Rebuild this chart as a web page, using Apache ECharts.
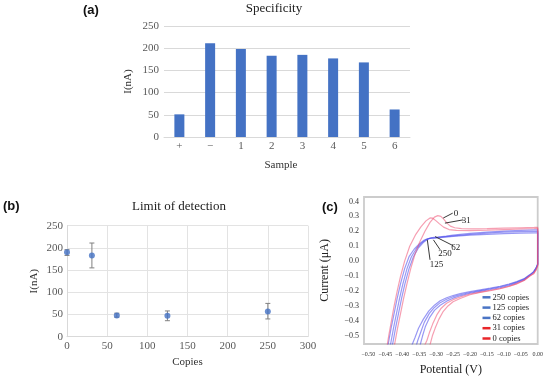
<!DOCTYPE html>
<html>
<head>
<meta charset="utf-8">
<script src="https://cdn.jsdelivr.net/npm/echarts@6/dist/echarts.min.js"></script>
<style>html,body{margin:0;padding:0;background:#fff}#c{width:550px;height:380px}</style>
</head>
<body>
<div id="c"></div>
<script>
// ---------- Panel (a) Specificity ----------
const sampleCats = ['+', '\u2212', '1', '2', '3', '4', '5', '6'];
const specValues = [51, 211, 198, 183, 185, 177, 168, 62];
const specTicks = [0, 50, 100, 150, 200, 250];

// ---------- Panel (b) Limit of detection ----------
const lodCopies = [0, 31, 62, 125, 250];
const lodMean = [190, 183, 48, 47, 57];
const lodLow = [183, 155, 44, 36, 40];
const lodHigh = [196, 211, 53, 58, 75];
const lodXTicks = [0, 50, 100, 150, 200, 250, 300];

// ---------- Panel (c) Cyclic voltammograms [V, uA] ----------
const cvNames = ['250 copies', '125 copies', '62 copies', '31 copies', '0 copies'];
const cv250 = [[-0.440,-0.60],[-0.434,-0.55],[-0.426,-0.45],[-0.417,-0.35],[-0.408,-0.25],[-0.398,-0.15],[-0.386,-0.05],[-0.373,0.03],[-0.358,0.085],[-0.344,0.12],[-0.331,0.143],[-0.320,0.153],[-0.312,0.156],[-0.300,0.158],[-0.28,0.163],[-0.25,0.17],[-0.2,0.18],[-0.15,0.188],[-0.1,0.194],[-0.05,0.198],[-0.01,0.2],[0,0.2],
  [0.000,-0.02],[-0.005,-0.048],[-0.012,-0.072],[-0.023,-0.092],[-0.040,-0.12],[-0.062,-0.14],[-0.085,-0.157],[-0.111,-0.172],[-0.140,-0.185],[-0.170,-0.197],[-0.200,-0.21],[-0.229,-0.225],[-0.250,-0.238],[-0.269,-0.255],[-0.288,-0.278],[-0.305,-0.31],[-0.320,-0.35],[-0.335,-0.41],[-0.346,-0.48],[-0.354,-0.53],[-0.358,-0.56],[-0.360,-0.60]];
const cv125 = [[-0.447,-0.60],[-0.441,-0.55],[-0.433,-0.45],[-0.424,-0.35],[-0.415,-0.25],[-0.405,-0.15],[-0.393,-0.05],[-0.380,0.03],[-0.365,0.08],[-0.350,0.115],[-0.336,0.14],[-0.326,0.150],[-0.318,0.153],[-0.305,0.155],[-0.28,0.16],[-0.25,0.166],[-0.2,0.174],[-0.15,0.180],[-0.1,0.185],[-0.05,0.188],[-0.01,0.19],[0,0.19],
  [0.000,-0.02],[-0.005,-0.045],[-0.012,-0.07],[-0.023,-0.09],[-0.040,-0.117],[-0.062,-0.137],[-0.085,-0.153],[-0.111,-0.168],[-0.140,-0.18],[-0.170,-0.192],[-0.200,-0.204],[-0.229,-0.218],[-0.250,-0.23],[-0.269,-0.245],[-0.288,-0.265],[-0.305,-0.295],[-0.322,-0.335],[-0.338,-0.39],[-0.352,-0.45],[-0.362,-0.51],[-0.371,-0.56],[-0.374,-0.60]];
const cv62 = [[-0.434,-0.60],[-0.428,-0.55],[-0.420,-0.45],[-0.411,-0.35],[-0.402,-0.25],[-0.392,-0.15],[-0.380,-0.05],[-0.367,0.03],[-0.352,0.09],[-0.338,0.125],[-0.325,0.147],[-0.314,0.157],[-0.306,0.16],[-0.295,0.162],[-0.27,0.168],[-0.25,0.175],[-0.2,0.186],[-0.15,0.195],[-0.1,0.202],[-0.05,0.207],[-0.01,0.21],[0,0.21],
  [0.000,-0.02],[-0.005,-0.05],[-0.012,-0.075],[-0.023,-0.095],[-0.040,-0.125],[-0.062,-0.145],[-0.085,-0.163],[-0.111,-0.178],[-0.140,-0.19],[-0.170,-0.202],[-0.200,-0.215],[-0.229,-0.232],[-0.250,-0.248],[-0.269,-0.268],[-0.288,-0.295],[-0.305,-0.33],[-0.320,-0.38],[-0.332,-0.44],[-0.340,-0.50],[-0.347,-0.56],[-0.350,-0.60]];
const cv31 = [[-0.447,-0.60],[-0.440,-0.50],[-0.432,-0.40],[-0.424,-0.30],[-0.415,-0.20],[-0.405,-0.10],[-0.393,0.00],[-0.378,0.10],[-0.360,0.18],[-0.345,0.23],[-0.330,0.27],[-0.318,0.29],[-0.310,0.288],[-0.300,0.27],[-0.290,0.25],[-0.278,0.228],[-0.262,0.212],[-0.240,0.206],[-0.200,0.205],[-0.150,0.208],[-0.100,0.212],[-0.050,0.216],[-0.010,0.219],[0.000,0.220],
  [0.000,-0.03],[-0.005,-0.058],[-0.012,-0.082],[-0.023,-0.098],[-0.040,-0.128],[-0.062,-0.15],[-0.085,-0.168],[-0.111,-0.183],[-0.140,-0.195],[-0.170,-0.207],[-0.200,-0.22],[-0.229,-0.24],[-0.250,-0.258],[-0.269,-0.282],[-0.285,-0.315],[-0.298,-0.36],[-0.310,-0.42],[-0.320,-0.48],[-0.327,-0.53],[-0.333,-0.56],[-0.336,-0.60]];
const cv0 = [[-0.428,-0.60],[-0.422,-0.55],[-0.414,-0.45],[-0.405,-0.35],[-0.396,-0.25],[-0.386,-0.15],[-0.375,-0.05],[-0.362,0.05],[-0.348,0.13],[-0.333,0.2],[-0.318,0.26],[-0.305,0.295],[-0.295,0.305],[-0.286,0.300],[-0.277,0.28],[-0.268,0.255],[-0.258,0.235],[-0.245,0.224],[-0.225,0.218],[-0.2,0.216],[-0.15,0.218],[-0.1,0.221],[-0.05,0.224],[-0.01,0.226],[0,0.227],
  [0.000,-0.03],[-0.005,-0.06],[-0.012,-0.085],[-0.023,-0.10],[-0.040,-0.13],[-0.062,-0.152],[-0.085,-0.17],[-0.111,-0.185],[-0.140,-0.198],[-0.170,-0.21],[-0.200,-0.225],[-0.229,-0.25],[-0.250,-0.272],[-0.265,-0.30],[-0.280,-0.34],[-0.292,-0.39],[-0.303,-0.45],[-0.311,-0.50],[-0.318,-0.56],[-0.321,-0.60]];
const cvYTicks = [-0.5, -0.4, -0.3, -0.2, -0.1, 0.0, 0.1, 0.2, 0.3, 0.4];
const cvXTicks = [-0.50, -0.45, -0.40, -0.35, -0.30, -0.25, -0.20, -0.15, -0.10, -0.05, 0.00];
// annotation: [anchorV, anchorI, endV, endI, textV, textI]
const cvNoteText = ['0', '31', '62', '250', '125'];
const cvNotes = [
  [-0.279, 0.289, -0.251, 0.322, -0.241, 0.318],
  [-0.274, 0.255, -0.220, 0.277, -0.211, 0.270],
  [-0.303, 0.165, -0.249, 0.103, -0.242, 0.090],
  [-0.308, 0.143, -0.288, 0.076, -0.274, 0.049],
  [-0.326, 0.143, -0.318, 0.009, -0.299, -0.025]
];

const SERIF = '"Liberation Serif", "Times New Roman", serif';
const SANS = '"Liberation Sans", Arial, sans-serif';
const blueLine = 'rgba(70,70,235,0.55)';
const pinkLine = 'rgba(238,80,115,0.55)';
const blueLegend = '#4a74c4';
const redLegend = '#e8262a';

const minus = s => s.replace('-', '\u2212');

const chart = echarts.init(document.getElementById('c'), null, {renderer: 'canvas'});

const cvData = [cv250, cv125, cv62, cv31, cv0];
const cvSeries = cvData.map((d, i) => ({
  name: cvNames[i], type: 'line', xAxisIndex: 2, yAxisIndex: 2,
  data: d, symbol: 'none', showSymbol: false, clip: true, smooth: false,
  lineStyle: {color: i < 3 ? blueLine : pinkLine, width: 1.2},
  itemStyle: {color: i < 3 ? blueLegend : redLegend},
  z: 3
}));

const option = {
  animation: false,
  backgroundColor: '#fff',
  title: [
    {text: 'Specificity', left: 274, top: 2, padding: 0, textAlign: 'center', textStyle: {fontFamily: SERIF, fontSize: 13, fontWeight: 'normal', color: '#222'}},
    {text: 'Limit of detection', left: 179, top: 200.5, padding: 0, textAlign: 'center', textStyle: {fontFamily: SERIF, fontSize: 13, fontWeight: 'normal', color: '#222'}}
  ],
  graphic: [
    {type: 'text', left: 83, top: 4, style: {text: '(a)', font: 'bold 13px ' + SANS, fill: '#111'}},
    {type: 'text', left: 3, top: 200, style: {text: '(b)', font: 'bold 13px ' + SANS, fill: '#111'}},
    {type: 'text', left: 322, top: 200.5, style: {text: '(c)', font: 'bold 13px ' + SANS, fill: '#111'}}
  ],
  legend: {
    data: cvNames.map((n, i) => ({name: n, itemStyle: {color: i < 3 ? blueLegend : redLegend}, lineStyle: {color: i < 3 ? blueLegend : redLegend}})),
    orient: 'vertical', left: 482.5, top: 292.3, icon: 'rect', itemWidth: 8, itemHeight: 2.5, itemGap: 0.3,
    padding: 0, selectedMode: false,
    textStyle: {fontFamily: SERIF, fontSize: 8.5, color: '#222', lineHeight: 10, padding: [0, 0, 0, -3]}
  },
  grid: [
    {left: 164, top: 26, width: 246, height: 111},
    {left: 67, top: 225.7, width: 241, height: 111},
    {left: 364, top: 197, width: 173.7, height: 147, show: true, borderColor: '#cccccc', borderWidth: 1.8, backgroundColor: 'transparent'}
  ],
  xAxis: [
    {gridIndex: 0, type: 'category', data: sampleCats,
     axisLine: {lineStyle: {color: '#d9d9d9'}}, axisTick: {show: false},
     axisLabel: {fontFamily: SERIF, fontSize: 11, color: '#595959', margin: 4},
     name: 'Sample', nameLocation: 'middle', nameGap: 23,
     nameTextStyle: {fontFamily: SERIF, fontSize: 11, color: '#333', padding: [0, 12, 0, 0]}},
    {gridIndex: 1, type: 'value', min: 0, max: 300, interval: 50,
     axisLine: {show: true, lineStyle: {color: '#d9d9d9'}}, axisTick: {show: false},
     splitLine: {show: true, lineStyle: {color: '#e3e3e3'}},
     axisLabel: {fontFamily: SERIF, fontSize: 11, color: '#595959', margin: 4, customValues: lodXTicks},
     name: 'Copies', nameLocation: 'middle', nameGap: 20,
     nameTextStyle: {fontFamily: SERIF, fontSize: 11, color: '#333'}},
    {gridIndex: 2, type: 'value', min: -0.513, max: 0,
     axisLine: {show: false}, axisTick: {show: false}, splitLine: {show: false},
     axisLabel: {fontFamily: SERIF, fontSize: 6, color: '#333', margin: 7, customValues: cvXTicks,
       formatter: v => minus(v.toFixed(2))},
     name: 'Potential (V)', nameLocation: 'middle', nameGap: 20,
     nameTextStyle: {fontFamily: SERIF, fontSize: 12, color: '#222'}}
  ],
  yAxis: [
    {gridIndex: 0, type: 'value', min: 0, max: 250, interval: 50,
     axisLine: {show: false}, axisTick: {show: false},
     splitLine: {lineStyle: {color: '#d9d9d9'}},
     axisLabel: {fontFamily: SERIF, fontSize: 11, color: '#595959', margin: 5, customValues: specTicks},
     name: 'I(nA)', nameLocation: 'middle', nameGap: 30,
     nameTextStyle: {fontFamily: SERIF, fontSize: 11, color: '#333'}},
    {gridIndex: 1, type: 'value', min: 0, max: 250, interval: 50,
     axisLine: {show: true, lineStyle: {color: '#d9d9d9'}}, axisTick: {show: false},
     splitLine: {lineStyle: {color: '#e3e3e3'}},
     axisLabel: {fontFamily: SERIF, fontSize: 11, color: '#595959', margin: 4},
     name: 'I(nA)', nameLocation: 'middle', nameGap: 27,
     nameTextStyle: {fontFamily: SERIF, fontSize: 11, color: '#333'}},
    {gridIndex: 2, type: 'value', min: -0.555, max: 0.43,
     axisLine: {show: false}, axisTick: {show: false}, splitLine: {show: false},
     axisLabel: {fontFamily: SERIF, fontSize: 8, color: '#333', margin: 5, customValues: cvYTicks,
       formatter: v => minus(v.toFixed(1))},
     name: 'Current (\u03bcA)', nameLocation: 'middle', nameGap: 33,
     nameTextStyle: {fontFamily: SERIF, fontSize: 12, color: '#222'}}
  ],
  series: [
    {type: 'bar', xAxisIndex: 0, yAxisIndex: 0, data: specValues, barWidth: 10,
     itemStyle: {color: '#4472c4'}},
    {type: 'custom', name: 'errors', xAxisIndex: 1, yAxisIndex: 1,
     data: lodCopies.map((c, i) => [c, lodLow[i], lodHigh[i]]),
     renderItem: (params, api) => {
       const top = api.coord([api.value(0), api.value(2)]);
       const bot = api.coord([api.value(0), api.value(1)]);
       const st = {stroke: '#808080', lineWidth: 1};
       return {type: 'group', children: [
         {type: 'line', shape: {x1: top[0], y1: top[1], x2: bot[0], y2: bot[1]}, style: st},
         {type: 'line', shape: {x1: top[0] - 2.5, y1: top[1], x2: top[0] + 2.5, y2: top[1]}, style: st},
         {type: 'line', shape: {x1: bot[0] - 2.5, y1: bot[1], x2: bot[0] + 2.5, y2: bot[1]}, style: st}
       ]};
     }, z: 2},
    {type: 'scatter', name: 'lod', xAxisIndex: 1, yAxisIndex: 1,
     data: lodCopies.map((c, i) => [c, lodMean[i]]), symbol: 'circle', symbolSize: 6,
     itemStyle: {color: '#4472c4'}, z: 3},
    ...cvSeries,
    {type: 'custom', name: 'notes', xAxisIndex: 2, yAxisIndex: 2, data: cvNotes,
     renderItem: (params, api) => {
       const a = api.coord([api.value(0), api.value(1)]);
       const e = api.coord([api.value(2), api.value(3)]);
       const t = api.coord([api.value(4), api.value(5)]);
       return {type: 'group', children: [
         {type: 'line', shape: {x1: a[0], y1: a[1], x2: e[0], y2: e[1]}, style: {stroke: '#222', lineWidth: 0.9}},
         {type: 'text', x: t[0], y: t[1], style: {text: cvNoteText[params.dataIndex], font: '9px ' + SERIF, fill: '#222', align: 'center', verticalAlign: 'middle'}}
       ]};
     }, z: 5}
  ]
};
chart.setOption(option);
</script>
</body>
</html>
